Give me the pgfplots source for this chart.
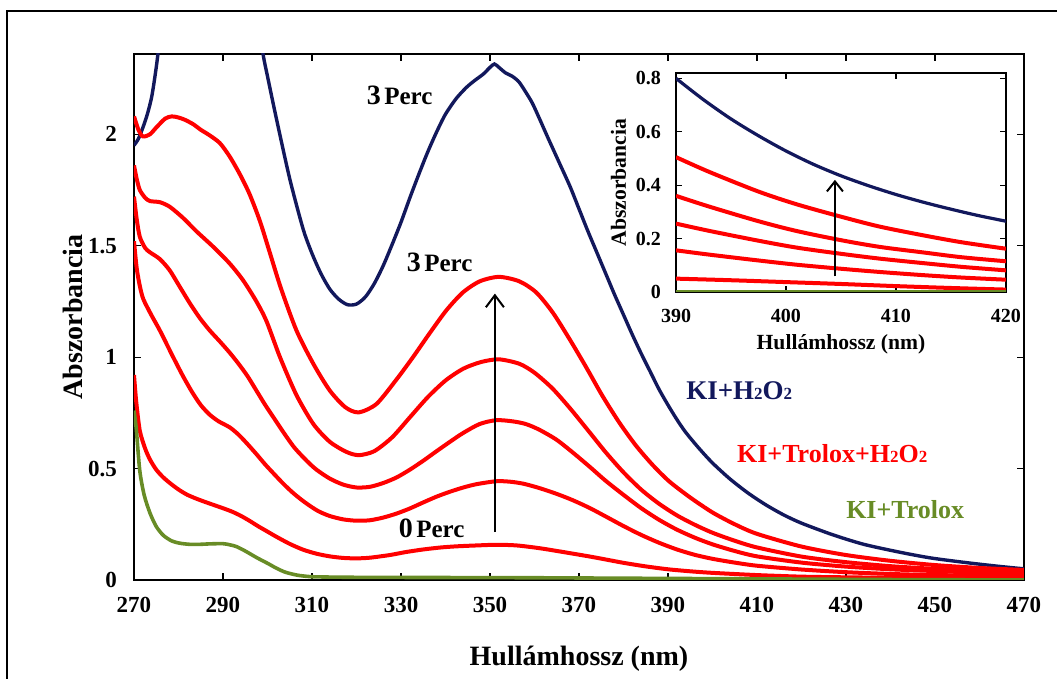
\documentclass[border=0pt]{standalone}
\usepackage{pgfplots}
\pgfplotsset{compat=1.18}
\usepackage{fontspec}
\setmainfont{Liberation Serif}
\usetikzlibrary{arrows.meta}
\definecolor{navy}{RGB}{18,24,92}
\definecolor{myred}{RGB}{255,0,0}
\definecolor{olive}{RGB}{104,140,38}
\newcommand{\sub}[1]{{\fontsize{8.5}{8.5}\selectfont #1}}
\begin{document}
\begin{tikzpicture}
\path[use as bounding box] (0,0) rectangle (528.5pt,339.5pt);
\draw[line width=1.2pt] (3.5pt,0) -- (3.5pt,334pt) -- (528.5pt,334pt);
\begin{axis}[
  at={(67pt,49.5pt)}, anchor=south west,
  scale only axis, width=445pt, height=263pt,
  xmin=270, xmax=470, ymin=0, ymax=2.36,
  xtick={270,290,...,470}, ytick={0,0.5,1,1.5,2},
  tick align=inside, major tick length=3.5pt,
  tick style={black, line width=0.6pt},
  axis line style={line width=0.8pt},
  /pgf/number format/assume math mode=true,
  ticklabel style={font=\bfseries\fontsize{11.5}{12}\selectfont},
  xticklabel style={yshift=-5pt},
  yticklabel style={xshift=-5pt},
  xlabel={\bfseries\fontsize{14}{16}\selectfont Hullámhossz (nm)},
  ylabel={\bfseries\fontsize{14}{16}\selectfont Abszorbancia},
  xlabel style={yshift=-10pt},
  ylabel style={yshift=-4pt},
  clip=true,
]
\addplot[navy, line width=1.7pt, smooth, tension=0.45] coordinates {(270,1.95)(271,1.98)(272,2.03)(273,2.09)(274,2.17)(275,2.30)(276,2.46)(278,2.78)(282,3.15)(286,3.35)(290,3.3)(294,3.0)(297,2.62)(299,2.36)(300,2.26)(302,2.07)(305,1.80)(308,1.575)(310,1.465)(312,1.375)(314,1.305)(316,1.26)(318,1.235)(320,1.238)(322,1.27)(324,1.33)(326,1.41)(328,1.505)(330,1.605)(332,1.715)(334,1.82)(336,1.92)(338,2.01)(340,2.09)(342.4,2.16)(344.7,2.21)(346.5,2.24)(348.5,2.27)(350,2.30)(351,2.315)(352,2.30)(353.5,2.275)(355,2.26)(356.5,2.235)(358,2.19)(359.5,2.14)(361,2.075)(363,1.985)(365.5,1.875)(368,1.765)(370,1.665)(372,1.565)(374,1.47)(376,1.375)(378,1.28)(380,1.19)(382,1.10)(384,1.015)(386,0.935)(388,0.855)(390,0.785)(392,0.72)(394,0.662)(397,0.59)(400,0.525)(404,0.452)(408,0.39)(412,0.337)(416,0.292)(420,0.255)(427,0.203)(434,0.16)(442,0.125)(449,0.099)(457,0.078)(464,0.062)(470,0.05)};
\addplot[myred, line width=2pt, smooth, tension=0.45] coordinates {(270,2.08)(271,2.02)(272,1.99)(273.6,2.00)(275,2.03)(277,2.07)(278.5,2.08)(280,2.075)(281.4,2.065)(283.3,2.045)(285,2.02)(287,1.995)(289.3,1.96)(291.5,1.90)(293.8,1.82)(296,1.73)(298.3,1.61)(300.5,1.47)(303,1.31)(306.5,1.12)(310.3,0.97)(314,0.85)(317.5,0.775)(320.5,0.752)(324.5,0.79)(329,0.90)(332.7,1.0)(336.4,1.106)(340.2,1.21)(343.9,1.29)(347.7,1.34)(352,1.36)(356.6,1.34)(360.4,1.29)(364.1,1.20)(367.9,1.08)(371.6,0.955)(375.3,0.825)(379.1,0.705)(382.8,0.603)(386.6,0.515)(390.3,0.442)(395,0.37)(400,0.303)(405,0.25)(410,0.207)(420,0.15)(430,0.112)(440,0.086)(450,0.067)(460,0.054)(470,0.045)};
\addplot[myred, line width=2pt, smooth, tension=0.45] coordinates {(270,1.86)(270.6,1.80)(271.3,1.75)(272.5,1.715)(273.6,1.70)(275.8,1.695)(278,1.675)(281,1.625)(284,1.565)(287.8,1.495)(291.5,1.42)(294.5,1.345)(297.5,1.25)(299.8,1.16)(302.8,1.0)(306.5,0.83)(310.3,0.70)(314,0.62)(317.7,0.575)(320.5,0.56)(324,0.578)(328,0.64)(332,0.73)(336,0.82)(340,0.895)(344,0.948)(348,0.978)(352,0.99)(356.6,0.97)(360,0.93)(364,0.86)(368,0.77)(372,0.672)(376,0.573)(380,0.483)(384,0.405)(388,0.342)(392,0.29)(396,0.248)(400,0.212)(405,0.176)(410,0.146)(420,0.105)(430,0.08)(440,0.062)(450,0.05)(460,0.042)(470,0.035)};
\addplot[myred, line width=2pt, smooth, tension=0.45] coordinates {(270,1.72)(270.6,1.62)(271.3,1.54)(272.5,1.49)(273.6,1.47)(275.8,1.44)(278,1.39)(280.3,1.315)(282.6,1.24)(284.8,1.175)(287,1.12)(289.3,1.07)(291.5,1.02)(293.5,0.97)(295.5,0.915)(297.5,0.85)(299.5,0.785)(301.5,0.725)(303.5,0.665)(306,0.595)(308.8,0.535)(311,0.495)(314,0.455)(317,0.428)(320,0.415)(323,0.418)(326,0.435)(329,0.46)(332,0.495)(335,0.535)(338,0.578)(341,0.62)(344,0.66)(347.7,0.70)(351.4,0.717)(355,0.712)(358,0.70)(361,0.675)(364.9,0.63)(368.6,0.572)(372.4,0.508)(376,0.445)(380,0.382)(384,0.322)(388,0.27)(392,0.226)(396,0.19)(400,0.16)(405,0.13)(410,0.106)(420,0.078)(430,0.06)(440,0.048)(450,0.04)(460,0.033)(470,0.028)};
\addplot[myred, line width=2pt, smooth, tension=0.45] coordinates {(270,1.52)(270.6,1.40)(271.3,1.32)(272.1,1.26)(274,1.185)(275.8,1.12)(278.8,1.00)(281,0.915)(283,0.845)(285,0.785)(287,0.742)(289,0.712)(291.5,0.685)(293.5,0.652)(295.5,0.61)(297.5,0.565)(299.5,0.518)(301.5,0.475)(303.5,0.433)(305.5,0.395)(307.5,0.362)(309.5,0.333)(311.5,0.308)(314,0.287)(317,0.272)(320,0.266)(323,0.268)(326,0.28)(329,0.298)(332,0.321)(335,0.348)(338,0.374)(341,0.396)(344,0.415)(347,0.43)(351.4,0.443)(354.5,0.441)(357.5,0.432)(361,0.413)(364.9,0.387)(368.6,0.358)(372.4,0.323)(376,0.285)(380,0.242)(384,0.202)(388,0.167)(392,0.137)(396,0.113)(400,0.095)(405,0.078)(410,0.064)(420,0.047)(430,0.035)(440,0.027)(450,0.022)(460,0.02)(470,0.018)};
\addplot[myred, line width=2pt, smooth, tension=0.45] coordinates {(270,0.92)(270.5,0.80)(271.3,0.67)(272.5,0.59)(273.6,0.54)(275,0.495)(276.6,0.46)(278.5,0.428)(280.3,0.402)(282,0.382)(284,0.365)(286,0.35)(288,0.336)(290,0.322)(292,0.307)(294,0.288)(296,0.265)(298,0.24)(300,0.217)(302,0.194)(305,0.162)(308,0.136)(311,0.118)(314,0.106)(317,0.099)(320,0.097)(323,0.10)(327.5,0.112)(331,0.125)(335,0.137)(339,0.146)(342.5,0.151)(347,0.155)(351.5,0.158)(356,0.155)(361,0.143)(366,0.127)(372.5,0.105)(376,0.092)(380,0.077)(385,0.061)(390,0.048)(395,0.039)(400,0.032)(410,0.022)(420,0.015)(430,0.012)(440,0.01)(450,0.009)(460,0.008)(470,0.007)};
\addplot[olive, line width=1.8pt, smooth, tension=0.45] coordinates {(270,0.76)(270.5,0.68)(271.3,0.49)(272.3,0.38)(273.6,0.30)(275,0.24)(276.6,0.20)(278.5,0.175)(280.3,0.165)(282.5,0.16)(284.8,0.16)(287,0.162)(290,0.163)(291.5,0.158)(293,0.15)(295,0.13)(297.6,0.10)(300,0.075)(302,0.053)(304,0.035)(306.6,0.022)(309,0.016)(311,0.014)(320,0.012)(340,0.011)(360,0.010)(380,0.008)(400,0.006)(420,0.004)(440,0.002)(470,0.0)};
\draw[line width=1pt, -{Straight Barb[length=6pt,width=9pt,line width=1pt]}] (axis cs:351.1,0.215) -- (axis cs:351.1,1.285);
\node[font=\bfseries] at (axis cs:329.7,2.175) {{\fontsize{14}{14}\selectfont 3}\,{\fontsize{12.5}{13}\selectfont Perc}};
\node[font=\bfseries] at (axis cs:338.7,1.426) {{\fontsize{14}{14}\selectfont 3}\,{\fontsize{12.5}{13}\selectfont Perc}};
\node[font=\bfseries] at (axis cs:336.9,0.233) {{\fontsize{14}{14}\selectfont 0}\,{\fontsize{12.5}{13}\selectfont Perc}};
\node[font=\bfseries\fontsize{13.5}{14}\selectfont, text=navy] at (axis cs:406,0.848) {KI+H\sub{2}O\sub{2}};
\node[font=\bfseries\fontsize{13}{14}\selectfont, text=myred] at (axis cs:426.9,0.565) {KI+Trolox+H\sub{2}O\sub{2}};
\node[font=\bfseries\fontsize{13}{14}\selectfont, text=olive] at (axis cs:443.3,0.314) {KI+Trolox};
\end{axis}
\begin{axis}[
  at={(338pt,193.5pt)}, anchor=south west,
  scale only axis, width=165pt, height=109.5pt,
  xmin=390, xmax=420, ymin=0, ymax=0.82,
  xtick={390,400,410,420}, ytick={0,0.2,0.4,0.6,0.8},
  tick align=inside, major tick length=3pt,
  tick style={black, line width=0.6pt},
  axis line style={line width=0.8pt},
  axis background/.style={fill=white},
  /pgf/number format/assume math mode=true,
  ticklabel style={font=\bfseries\fontsize{10}{11}\selectfont},
  xticklabel style={yshift=-5pt},
  yticklabel style={xshift=-4pt},
  xlabel={\bfseries\fontsize{10.8}{12}\selectfont Hullámhossz (nm)},
  ylabel={\bfseries\fontsize{10.8}{12}\selectfont Abszorbancia},
  xlabel style={yshift=1pt},
  ylabel style={yshift=-2pt},
]
\addplot[navy, line width=1.6pt, smooth] coordinates {(390,0.80)(392.5,0.72)(395,0.648)(397.5,0.585)(400,0.528)(402.5,0.478)(405,0.435)(407.5,0.398)(410,0.365)(412.5,0.336)(415,0.31)(417.5,0.286)(420,0.265)};
\addplot[myred, line width=2pt, smooth] coordinates {(390,0.505)(393,0.45)(397.5,0.376)(401,0.328)(405,0.282)(408.5,0.245)(412.5,0.212)(416,0.186)(420,0.162)};
\addplot[myred, line width=2pt, smooth] coordinates {(390,0.36)(393,0.32)(397.5,0.265)(401,0.228)(405,0.194)(408.5,0.169)(412.5,0.148)(416,0.13)(420,0.115)};
\addplot[myred, line width=2pt, smooth] coordinates {(390,0.256)(393,0.229)(397.5,0.192)(401,0.166)(405,0.143)(408.5,0.125)(412.5,0.108)(416,0.094)(420,0.081)};
\addplot[myred, line width=2pt, smooth] coordinates {(390,0.156)(393,0.14)(397.5,0.118)(401,0.102)(405,0.087)(408.5,0.075)(412.5,0.063)(416,0.054)(420,0.046)};
\addplot[myred, line width=2pt, smooth] coordinates {(390,0.05)(395,0.044)(400,0.037)(405,0.03)(410,0.022)(415,0.015)(420,0.009)};
\addplot[olive, line width=1pt] coordinates {(390,0.002)(420,0.002)};
\draw[line width=1pt, -{Straight Barb[length=5pt,width=8pt,line width=1pt]}] (axis cs:404.45,0.058) -- (axis cs:404.45,0.42);
\end{axis}
\end{tikzpicture}
\end{document}
